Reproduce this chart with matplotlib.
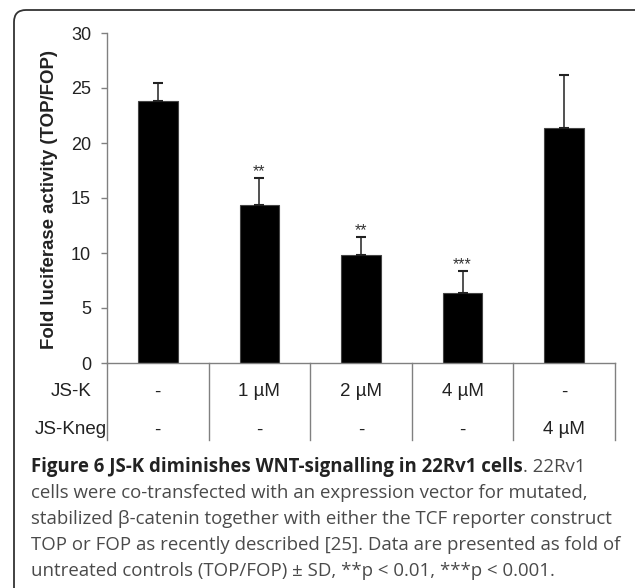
import matplotlib
matplotlib.use("Agg")
import matplotlib.pyplot as plt
from matplotlib.patches import FancyBboxPatch
from matplotlib.transforms import IdentityTransform, blended_transform_factory

# ---- data ----
means = [23.8, 14.4, 9.8, 6.35, 21.4]
sd_up = [1.65, 2.45, 1.65, 2.0, 4.75]
stars = ["", "**", "**", "***", ""]
jsk_labels = ["-", "1 \u00b5M", "2 \u00b5M", "4 \u00b5M", "-"]
jskneg_labels = ["-", "-", "-", "-", "4 \u00b5M"]
row_names = ["JS-K", "JS-Kneg"]
yticks = [0, 5, 10, 15, 20, 25, 30]
ylabel = "Fold luciferase activity (TOP/FOP)"
cap_bold = "Figure 6 JS-K diminishes WNT-signalling in 22Rv1 cells"
cap_first_rest = ". 22Rv1"
cap_lines = [
    "cells were co-transfected with an expression vector for mutated,",
    "stabilized \u03b2-catenin together with either the TCF reporter construct",
    "TOP or FOP as recently described [25]. Data are presented as fold of",
    "untreated controls (TOP/FOP) \u00b1 SD, **p < 0.01, ***p < 0.001.",
]

W, H = 635, 588
fig = plt.figure(figsize=(W / 100, H / 100), dpi=100)
fig.patch.set_facecolor("white")

# rounded frame
frame = FancyBboxPatch((14, -30), 660, H - 10 + 30,
                       boxstyle="round,pad=0,rounding_size=12",
                       transform=IdentityTransform(), fill=False,
                       edgecolor="#333333", linewidth=1.3)
fig.add_artist(frame)

ax_l, ax_r, ax_t, ax_b = 107, 615, 33, 363
ax = fig.add_axes([ax_l / W, 1 - ax_b / H, (ax_r - ax_l) / W, (ax_b - ax_t) / H])

x = list(range(len(means)))
ax.bar(x, means, width=0.39, color="black", edgecolor="#444444", linewidth=0.8, zorder=2)
ax.errorbar(x, means, yerr=[[0] * len(means), sd_up], fmt="none",
            ecolor="#222222", elinewidth=1.1, capsize=3.3, capthick=1.5, zorder=3)
for xi, m, e, s in zip(x, means, sd_up, stars):
    if s:
        ax.annotate(s, (xi, m + e), xytext=(0, -1), textcoords="offset points",
                    ha="center", va="bottom", fontsize=11.5, color="#333333",
                    family="Liberation Sans")

ax.set_xlim(-0.5, len(means) - 0.5)
ax.set_ylim(0, 30)
ax.set_yticks(yticks)
ax.set_yticklabels([str(t) for t in yticks], family="Liberation Sans", fontsize=13, color="#222222")
ax.tick_params(axis="y", direction="out", length=4.5, width=1, color="#808080", pad=7)
ax.tick_params(axis="x", length=0, labelbottom=False)
for sp in ["top", "right"]:
    ax.spines[sp].set_visible(False)
for sp in ["left", "bottom"]:
    ax.spines[sp].set_color("#808080")
    ax.spines[sp].set_linewidth(1.0)

fig.text(50 / W, 1 - 200 / H, ylabel, rotation=90, ha="center", va="center",
         family="Liberation Sans", fontweight="bold", fontsize=13.4, color="#222222")

# table beneath axis
trans = blended_transform_factory(ax.transData, ax.transAxes)
tab_bottom = -(440 - 363) / (ax_b - ax_t)
for xv in [i - 0.5 for i in range(len(means) + 1)]:
    ax.plot([xv, xv], [0, tab_bottom], transform=trans, color="#808080",
            linewidth=1.0, clip_on=False)
row_y = [-(392 - 363) / (ax_b - ax_t), -(430 - 363) / (ax_b - ax_t)]
for ry, labels in zip(row_y, [jsk_labels, jskneg_labels]):
    for xi, lab in zip(x, labels):
        ax.text(xi, ry, lab, transform=trans, ha="center", va="center",
                family="Liberation Sans", fontsize=13.5, color="#222222")
for ry, name in zip(row_y, row_names):
    ax.text(-0.5 - (107 - 71) / ((ax_r - ax_l) / len(means)), ry, name, transform=trans,
            ha="center", va="center", family="Liberation Sans", fontsize=13.5,
            color="#222222")

# caption
cx = 31
base = [472, 498, 524, 550, 576]
cap_fs = 13.4
t0 = fig.text(cx / W, 1 - base[0] / H, cap_bold, ha="left", va="baseline",
              family="Open Sans", fontweight="bold", fontsize=cap_fs, color="#222222")
fig.canvas.draw()
r = fig.canvas.get_renderer()
bb = t0.get_window_extent(r)
fig.text(bb.x1 / W, 1 - base[0] / H, cap_first_rest, ha="left", va="baseline",
         family="Open Sans", fontsize=cap_fs, color="#4a4a4a")
for b, line in zip(base[1:], cap_lines):
    fig.text(cx / W, 1 - b / H, line, ha="left", va="baseline",
             family="Open Sans", fontsize=cap_fs, color="#4a4a4a")

fig.savefig("out.png", dpi=100, facecolor="white")
